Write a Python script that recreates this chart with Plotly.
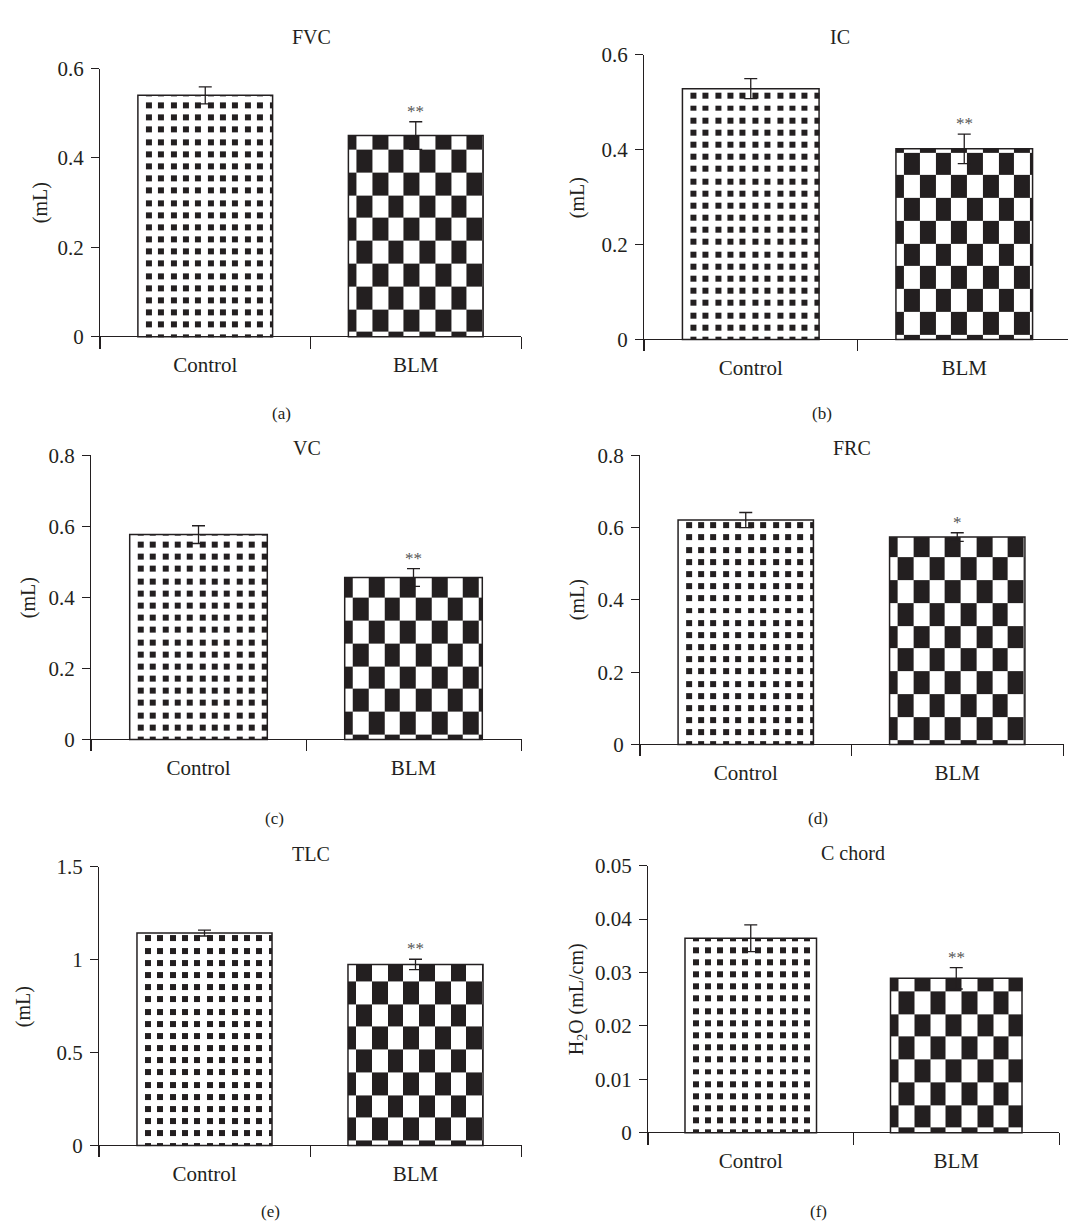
import plotly.graph_objects as go

# ---------------- data ----------------
categories = ["Control", "BLM"]
metrics = ["FVC", "IC", "VC", "FRC", "TLC", "C chord"]
control_mean = [0.540, 0.529, 0.577, 0.621, 1.144, 0.0364]
control_sem = [0.019, 0.021, 0.025, 0.021, 0.016, 0.0025]
blm_mean = [0.450, 0.402, 0.456, 0.574, 0.975, 0.0289]
blm_sem = [0.031, 0.031, 0.025, 0.012, 0.028, 0.0020]
significance = ["**", "**", "**", "*", "**", "**"]
y_max = [0.6, 0.6, 0.8, 0.8, 1.5, 0.05]
y_tickvals = [
    [0, 0.2, 0.4, 0.6],
    [0, 0.2, 0.4, 0.6],
    [0, 0.2, 0.4, 0.6, 0.8],
    [0, 0.2, 0.4, 0.6, 0.8],
    [0, 0.5, 1, 1.5],
    [0, 0.01, 0.02, 0.03, 0.04, 0.05],
]
y_ticktext = [
    ["0", "0.2", "0.4", "0.6"],
    ["0", "0.2", "0.4", "0.6"],
    ["0", "0.2", "0.4", "0.6", "0.8"],
    ["0", "0.2", "0.4", "0.6", "0.8"],
    ["0", "0.5", "1", "1.5"],
    ["0", "0.01", "0.02", "0.03", "0.04", "0.05"],
]
y_titles = ["(mL)", "(mL)", "(mL)", "(mL)", "(mL)", "H<sub>2</sub>O (mL/cm)"]
panel_labels = ["(a)", "(b)", "(c)", "(d)", "(e)", "(f)"]

# ---------------- layout (pixels, page coordinates) ----------------
W, H = 1076, 1223
OFF = 8.0  # page body margin offset
PANELS = [
    dict(x0=100, x1=521, ytop=57.0, ybot=340.0, title=(311, 25), ytitle=(40, 193), label=(281, 405)),
    dict(x0=644, x1=1071, ytop=43.3, ybot=342.7, title=(840, 25), ytitle=(577, 188), label=(822, 405)),
    dict(x0=91, x1=521, ytop=447.7, ybot=746.7, title=(307, 440), ytitle=(28, 592), label=(274, 814)),
    dict(x0=640, x1=1063, ytop=447.7, ybot=751.7, title=(852, 440), ytitle=(577, 594), label=(818, 814)),
    dict(x0=99, x1=521, ytop=863.3, ybot=1156.7, title=(311, 850), ytitle=(23, 1005), label=(270, 1211)),
    dict(x0=648, x1=1059, ytop=862.0, ybot=1143.7, title=(853, 849), ytitle=(577, 997), label=(818, 1211)),
]
ZERO_EXT = 12.0
BAR_W = 0.64
INK = "#231f20"
FONT = "Liberation Serif"
FS = 21

COLORSCALE = [[0, "#ffffff"], [1, INK]]


def px_x(v):
    return (v - OFF) / W


def px_y(v):
    return 1 - (v - OFF) / H


def segments(start, end, first_len, first_on, on_len, off_len):
    edges = [start]
    flags = []
    pos, on, seg = start, first_on, first_len
    while pos < end - 1e-12:
        nxt = min(pos + seg, end)
        edges.append(nxt)
        flags.append(on)
        pos = nxt
        on = not on
        seg = on_len if on else off_len
    return edges, flags


fig = go.Figure()
annotations = []

for i in range(6):
    p = PANELS[i]
    n = "" if i == 0 else str(i + 1)
    xa, ya = "x" + n, "y" + n
    hpx = p["ybot"] - p["ytop"]
    ymax = y_max[i]
    ymin = -ymax * ZERO_EXT / (hpx - ZERO_EXT)
    ppx = (p["x1"] - p["x0"]) / 2.0          # px per x unit
    ppy = hpx / (ymax - ymin)                # px per y unit

    # --- Control: dotted texture ---
    left, right = 0 - BAR_W / 2, 0 + BAR_W / 2
    xe, xf = segments(left, right, 7.7 / ppx, False, 6.0 / ppx, 6.4 / ppx)
    ye, yf = segments(0, control_mean[i], 3.0 / ppy, True, 6.0 / ppy, 6.3 / ppy)
    z = [[1 if (yf[r] and xf[c]) else None for c in range(len(xf))] for r in range(len(yf))]
    fig.add_trace(go.Heatmap(x=xe, y=ye, z=z, colorscale=COLORSCALE, zmin=0, zmax=1,
                             showscale=False, hoverinfo="skip", xaxis=xa, yaxis=ya))

    # --- BLM: checkerboard texture ---
    left, right = 1 - BAR_W / 2, 1 + BAR_W / 2
    cw, ch = 15.7 / ppx, 23.0 / ppy
    xe, _ = segments(left, right, 8.3 / ppx, True, cw, cw)
    ye, _ = segments(0, blm_mean[i], 5.0 / ppy, True, ch, ch)
    z = [[(r + c) % 2 for c in range(len(xe) - 1)] for r in range(len(ye) - 1)]
    fig.add_trace(go.Heatmap(x=xe, y=ye, z=z, colorscale=COLORSCALE, zmin=0, zmax=1,
                             showscale=False, hoverinfo="skip", xaxis=xa, yaxis=ya))

    # --- bars (outline + error bars) ---
    fig.add_trace(go.Bar(
        x=[0, 1], y=[control_mean[i], blm_mean[i]], width=BAR_W,
        marker=dict(color="rgba(0,0,0,0)", line=dict(color=INK, width=1.5)),
        error_y=dict(type="data", array=[control_sem[i], blm_sem[i]], visible=True,
                     color=INK, thickness=1.3, width=6.5),
        hoverinfo="skip", showlegend=False, xaxis=xa, yaxis=ya,
    ))

    fig.update_layout(**{
        "xaxis" + n: dict(
            domain=[px_x(p["x0"]), px_x(p["x1"])], anchor=ya, range=[-0.5, 1.5],
            tickmode="array", tickvals=[0, 1], ticktext=categories,
            ticks="outside", ticklen=0, tickcolor="rgba(0,0,0,0)",
            ticklabelstandoff=-3,
            minor=dict(tickmode="array", tickvals=[-0.5, 0.5, 1.5], ticks="inside",
                       ticklen=ZERO_EXT, tickwidth=1.3, tickcolor=INK, showgrid=False),
            showline=False, showgrid=False, zeroline=False, fixedrange=True,
            tickfont=dict(family=FONT, size=FS, color=INK),
        ),
        "yaxis" + n: dict(
            domain=[px_y(p["ybot"]), px_y(p["ytop"])], anchor=xa, range=[ymin, ymax],
            tickmode="array", tickvals=y_tickvals[i], ticktext=y_ticktext[i],
            ticks="outside", ticklen=8, tickwidth=1.3, tickcolor=INK,
            ticklabelstandoff=3,
            showline=True, linecolor=INK, linewidth=1.3,
            showgrid=False, zeroline=True, zerolinecolor=INK, zerolinewidth=1.3,
            fixedrange=True,
            tickfont=dict(family=FONT, size=FS, color=INK),
        ),
    })

    # titles, axis titles, panel labels, significance
    tx, ty = p["title"]
    annotations.append(dict(text=metrics[i], x=px_x(tx), y=px_y(ty), xref="paper", yref="paper",
                            xanchor="center", yanchor="middle", showarrow=False,
                            font=dict(family=FONT, size=20, color=INK)))
    yx, yy = p["ytitle"]
    annotations.append(dict(text=y_titles[i], x=px_x(yx), y=px_y(yy), xref="paper", yref="paper",
                            xanchor="center", yanchor="middle", showarrow=False, textangle=-90,
                            font=dict(family=FONT, size=20, color=INK)))
    lx, ly = p["label"]
    annotations.append(dict(text=panel_labels[i], x=px_x(lx), y=px_y(ly), xref="paper", yref="paper",
                            xanchor="center", yanchor="middle", showarrow=False,
                            font=dict(family=FONT, size=17, color=INK)))
    annotations.append(dict(text=significance[i], x=1, y=blm_mean[i] + blm_sem[i],
                            xref=xa, yref=ya, xanchor="center", yanchor="bottom",
                            showarrow=False, yshift=-1,
                            font=dict(family=FONT, size=17, color="#555555")))

fig.update_layout(
    width=W, height=H, margin=dict(l=0, r=0, t=0, b=0),
    paper_bgcolor="white", plot_bgcolor="white",
    showlegend=False, barmode="overlay",
    annotations=annotations,
)

fig.write_html("out.html", config={"displayModeBar": False})
